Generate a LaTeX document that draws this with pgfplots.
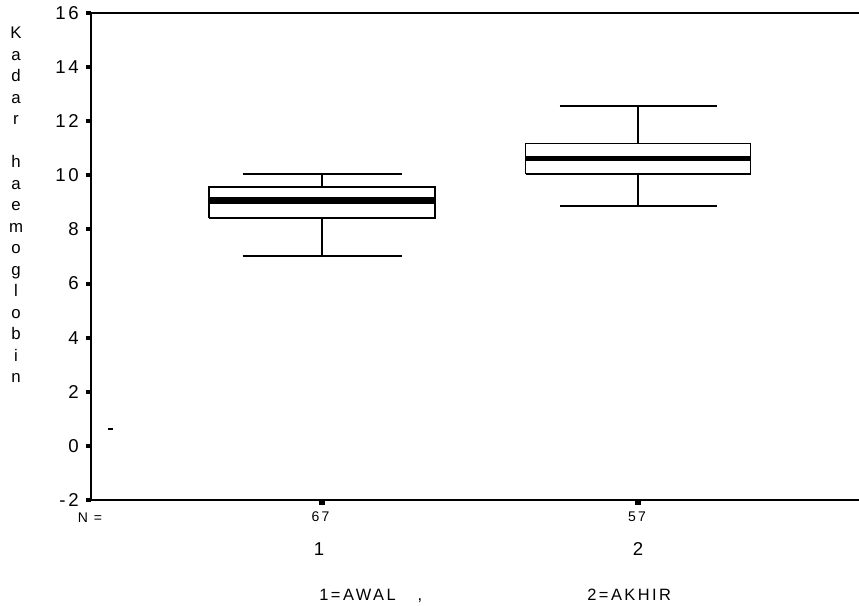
\documentclass[border=0pt]{standalone}
\usepackage{pgfplots}
\pgfplotsset{compat=1.18}
\usepackage{fontspec}
\setmainfont{Liberation Sans}
\newfontfamily\spss[LetterSpace=15]{Liberation Sans}
\begin{document}
\begin{tikzpicture}
\path[use as bounding box] (-45.5pt,-53pt) rectangle (384pt,250pt);
\begin{axis}[
  scale only axis,
  width=384pt, height=243.5pt,
  at={(0,0)}, anchor=south west,
  xmin=0.269, xmax=2.699,
  ymin=-2, ymax=16,
  ytick={-2,0,2,4,6,8,10,12,14,16},
  xtick={1,2}, xticklabels={},
  axis x line=box, axis y line=left,
  axis line style={-, line width=1pt, black},
  xtick pos=bottom, ytick pos=left,
  tick align=outside,
  major tick length=2.6pt,
  tick style={line width=2pt, black},
  xtick style={line width=3pt},
  /pgf/number format/assume math mode=true,
  yticklabel style={font=\spss\fontsize{9.3}{10}\selectfont},
  clip=false,
]
% ---- group 1: whiskers 7.02 / 10.05, quartiles 8.41 / 9.57, median 9.08
\addplot[black, line width=0.8pt] coordinates {(1,7.02) (1,8.41)};
\addplot[black, line width=0.8pt] coordinates {(1,9.57) (1,10.05)};
\addplot[black, line width=0.9pt] coordinates {(0.7485,7.02) (1.2515,7.02)};
\addplot[black, line width=0.9pt] coordinates {(0.7485,10.05) (1.2515,10.05)};
\addplot[black, line width=3.6pt] coordinates {(0.6425,9.08) (1.3575,9.08)};
\addplot[black, line width=0.9pt] coordinates {(0.6425,8.41) (1.3575,8.41) (1.3575,9.57) (0.6425,9.57) (0.6425,8.41)};
% ---- group 2: whiskers 8.86 / 12.56, quartiles 10.04 / 11.18, median 10.61
\addplot[black, line width=0.8pt] coordinates {(2,8.86) (2,10.04)};
\addplot[black, line width=0.8pt] coordinates {(2,11.18) (2,12.56)};
\addplot[black, line width=0.9pt] coordinates {(1.7515,8.86) (2.2485,8.86)};
\addplot[black, line width=0.9pt] coordinates {(1.7515,12.56) (2.2485,12.56)};
\addplot[black, line width=2.6pt] coordinates {(1.644,10.61) (2.356,10.61)};
\addplot[black, line width=0.9pt] coordinates {(1.644,10.04) (2.356,10.04) (2.356,11.18) (1.644,11.18) (1.644,10.04)};
% stray point
\addplot[only marks, mark=-, mark size=1.3pt, line width=1.3pt, black] coordinates {(0.33,0.62)};
\end{axis}
% y label, stacked letters
\foreach \c [count=\i from 0] in {K,a,d,a,r,{},h,a,e,m,o,g,l,o,b,i,n}
  \node[anchor=base, inner sep=0pt, font=\spss\fontsize{8.4}{9}\selectfont] at (-37.5pt,{230.5pt-\i*10.75pt}) {\c};
% N counts and category labels
\node[anchor=base, inner sep=0pt, font=\spss\fontsize{7}{8}\selectfont] at (-0.5pt,-11.25pt) {N =};
\node[anchor=base, inner sep=0pt, font=\spss\fontsize{7}{8}\selectfont] at (114.75pt,-11pt) {67};
\node[anchor=base, inner sep=0pt, font=\spss\fontsize{7}{8}\selectfont] at (273pt,-11pt) {57};
\node[anchor=base, inner sep=0pt, font=\spss\fontsize{9.3}{10}\selectfont] at (114pt,-27.8pt) {1};
\node[anchor=base, inner sep=0pt, font=\spss\fontsize{9.3}{10}\selectfont] at (273.5pt,-27.8pt) {2};
\node[anchor=base west, inner sep=0pt, font=\spss\fontsize{8.2}{9}\selectfont] at (114pt,-50.3pt) {1=AWAL};
\node[anchor=base, inner sep=0pt, font=\spss\fontsize{8.2}{9}\selectfont] at (164.5pt,-50.3pt) {,};
\node[anchor=base west, inner sep=0pt, font=\spss\fontsize{8.2}{9}\selectfont] at (248pt,-50.3pt) {2=AKHIR};
\end{tikzpicture}
\end{document}
